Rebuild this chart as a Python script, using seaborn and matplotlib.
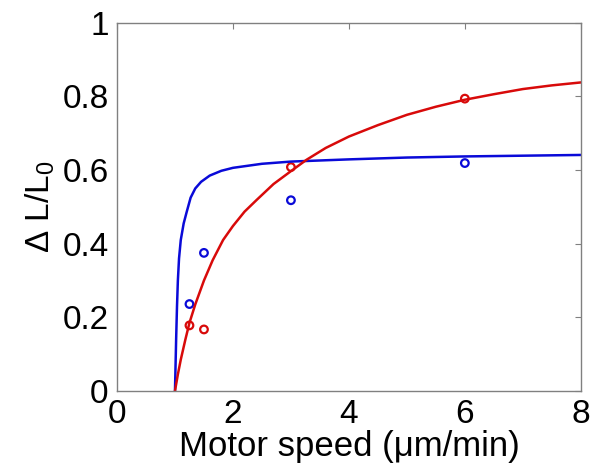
import numpy as np
import pandas as pd
import seaborn as sns
import matplotlib
matplotlib.use("Agg")
import matplotlib.pyplot as plt

# measured points
speed_pts = [1.25, 1.5, 3.0, 6.0]
blue_pts = [0.236, 0.375, 0.518, 0.619]
red_pts = [0.178, 0.167, 0.608, 0.794]

# fitted curves
blue_fit_x = [1.0, 1.01, 1.02, 1.035, 1.05, 1.07, 1.1, 1.15, 1.2, 1.27, 1.35, 1.45,
              1.6, 1.8, 2.0, 2.5, 3.0, 4.0, 5.0, 6.0, 7.0, 8.0]
blue_fit_y = [0.0, 0.07, 0.14, 0.23, 0.30, 0.36, 0.41, 0.455, 0.485, 0.525, 0.55, 0.568,
              0.585, 0.598, 0.606, 0.617, 0.623, 0.629, 0.634, 0.637, 0.639, 0.641]
red_fit_x = [1.0, 1.05, 1.1, 1.18, 1.25, 1.35, 1.5, 1.65, 1.83, 2.0, 2.2, 2.41, 2.7,
             3.0, 3.27, 3.6, 4.0, 4.5, 5.0, 5.5, 6.0, 6.5, 7.0, 7.5, 8.0]
red_fit_y = [0.0, 0.045, 0.085, 0.14, 0.185, 0.235, 0.30, 0.355, 0.41, 0.448, 0.487, 0.519,
             0.562, 0.597, 0.628, 0.66, 0.691, 0.722, 0.75, 0.772, 0.791, 0.806, 0.82,
             0.83, 0.838]

blue = "#0a0ad8"
red = "#d80a0a"

sns.set_theme(style="white")
plt.rcParams['font.family'] = ['Liberation Sans', 'DejaVu Sans']
plt.rcParams['mathtext.default'] = 'regular'
plt.rcParams['text.color'] = 'black'
plt.rcParams['axes.labelcolor'] = 'black'

fig = plt.figure(figsize=(6, 4.75), dpi=100)
ax = fig.add_axes([0.195, 0.177, 0.773, 0.775])

sns.lineplot(x=blue_fit_x, y=blue_fit_y, color=blue, linewidth=1.8, sort=False, ax=ax)
sns.lineplot(x=red_fit_x, y=red_fit_y, color=red, linewidth=1.8, sort=False, ax=ax)
sns.scatterplot(x=speed_pts, y=blue_pts, marker='o', s=30, facecolor='none',
                edgecolor=blue, linewidth=1.6, ax=ax)
sns.scatterplot(x=speed_pts, y=red_pts, marker='o', s=30, facecolor='none',
                edgecolor=red, linewidth=1.6, ax=ax)

ax.set_xlim(0, 8)
ax.set_ylim(0, 1)
ax.set_xticks([0, 2, 4, 6, 8])
ax.set_yticks([0, 0.2, 0.4, 0.6, 0.8, 1])
ax.set_yticklabels(['0', '0.2', '0.4', '0.6', '0.8', '1'])
ax.tick_params(direction='in', top=True, right=True, length=4, width=0.8,
               color='#808080', labelsize=24, labelcolor='black', pad=6)
for sp in ax.spines.values():
    sp.set_color('#808080')
    sp.set_linewidth(1.0)

ax.set_xlabel('Motor speed (μm/min)', fontsize=25, labelpad=0, color='black')
ax.set_ylabel('Δ L/L$_0$', fontsize=24, labelpad=4, color='black')

fig.savefig("out.png", dpi=100)
